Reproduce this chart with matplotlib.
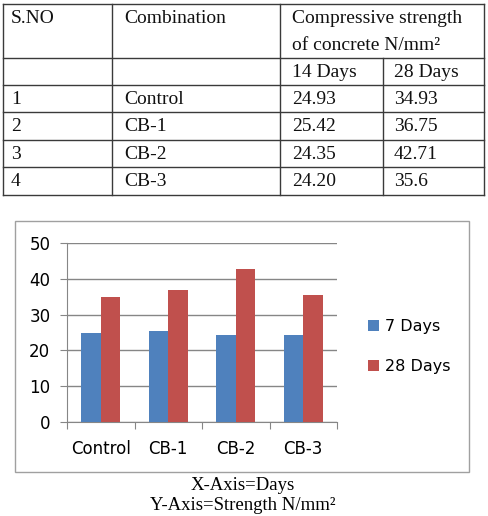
import matplotlib
matplotlib.use('Agg')
import matplotlib.pyplot as plt
import numpy as np

# data
sno = ['1', '2', '3', '4']
combos = ['Control', 'CB-1', 'CB-2', 'CB-3']
tab_14 = ['24.93', '25.42', '24.35', '24.20']
tab_28 = ['34.93', '36.75', '42.71', '35.6']
days7 = [24.93, 25.42, 24.35, 24.20]
days28 = [34.93, 36.75, 42.71, 35.6]
yticks = [0, 10, 20, 30, 40, 50]
series_names = ['7 Days', '28 Days']

W, H = 488, 516
fig = plt.figure(figsize=(W / 100, H / 100), dpi=100)

# background axes in pixel units for table + captions
bg = fig.add_axes([0, 0, 1, 1])
bg.set_xlim(0, W)
bg.set_ylim(H, 0)
bg.axis('off')

serif = 'Liberation Serif'
fs_tab = 14
lc = '#3a3a3a'

# table grid
cols = [3, 112, 280, 383, 484]
rows = [4, 58, 85, 112, 140, 167, 195]
for y in rows:
    bg.plot([cols[0], cols[-1]], [y, y], color=lc, lw=1.0)
for x in cols:
    if x == 383:
        bg.plot([x, x], [58, rows[-1]], color=lc, lw=1.0)
    else:
        bg.plot([x, x], [rows[0], rows[-1]], color=lc, lw=1.0)

def ttext(x, y, s):
    bg.text(x, y, s, family=serif, fontsize=fs_tab, va='baseline', ha='left', color='#111111')

ttext(11, 23, 'S.NO')
ttext(124, 23, 'Combination')
ttext(292, 23, 'Compressive strength')
ttext(292, 50, 'of concrete N/mm²')
ttext(292, 77, '14 Days')
ttext(394, 77, '28 Days')
for i in range(4):
    yb = rows[2 + i] + 19
    ttext(11, yb, sno[i])
    ttext(124, yb, combos[i])
    ttext(292, yb, tab_14[i])
    ttext(394, yb, tab_28[i])

# chart outer box
bg.add_patch(plt.Rectangle((15, 221), 454, 251, fill=False, ec='#a0a0a0', lw=1.0))

# captions
bg.text(243, 490, 'X-Axis=Days', family=serif, fontsize=13.5, ha='center', va='baseline')
bg.text(243, 510, 'Y-Axis=Strength N/mm²', family=serif, fontsize=13.5, ha='center', va='baseline')

# bar chart
ax = fig.add_axes([67 / W, (H - 422) / H, 270 / W, 179 / H])
x = np.arange(len(combos))
bw = 1 / 3.5
ax.bar(x - bw / 2, days7, bw, color='#4F81BD', label=series_names[0], zorder=3)
ax.bar(x + bw / 2, days28, bw, color='#C0504D', label=series_names[1], zorder=3)
ax.set_xlim(-0.5, len(combos) - 0.5)
ax.set_ylim(0, 50)
ax.set_yticks(yticks)
ax.yaxis.grid(True, color='#868686', lw=1.0, zorder=0)
for s in ['top', 'right']:
    ax.spines[s].set_visible(False)
for s in ['left', 'bottom']:
    ax.spines[s].set_color('#868686')
ax.set_xticks(np.arange(-0.5, len(combos), 1.0))
ax.set_xticklabels([])
ax.set_xticks(x, minor=True)
ax.set_xticklabels(combos, minor=True, fontsize=12, family='DejaVu Sans')
ax.tick_params(axis='x', which='minor', length=0, pad=13)
ax.tick_params(axis='x', which='major', length=5, color='#868686')
ax.tick_params(axis='y', length=5, color='#868686', labelsize=12, pad=7)
ax.set_facecolor('none')

leg = ax.legend(loc='center left', bbox_to_anchor=(1.06, 0.42), frameon=False,
                fontsize=11.5, handlelength=0.7, handleheight=0.7, handletextpad=0.4,
                labelspacing=1.55)

fig.savefig('out.png', dpi=100)
